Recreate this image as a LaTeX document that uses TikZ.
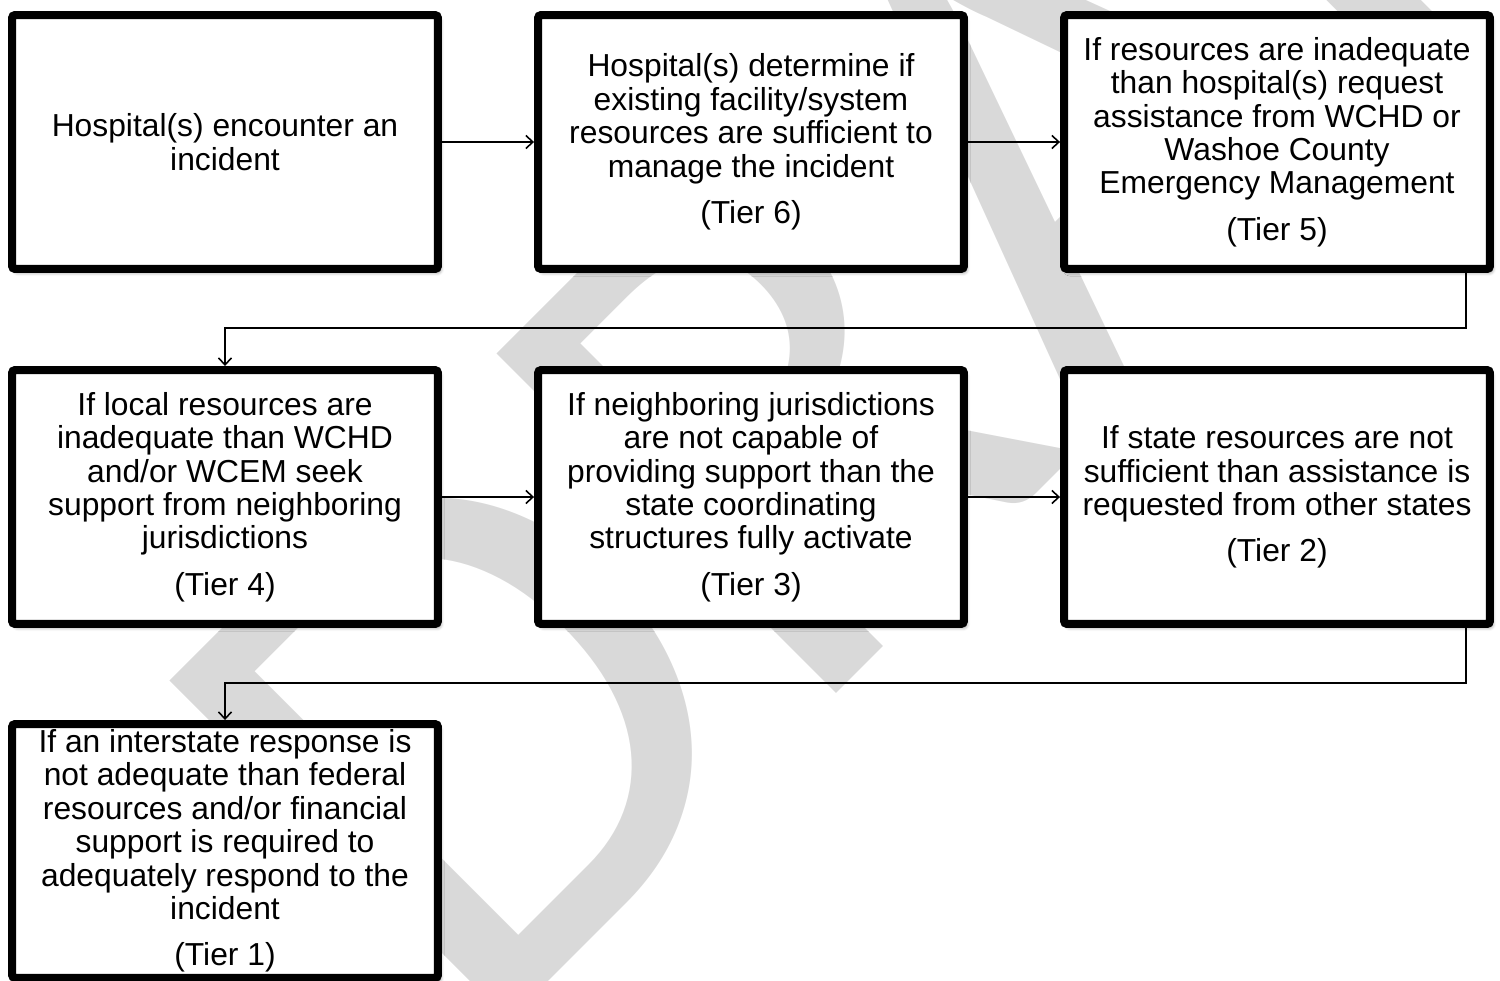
\documentclass[tikz,border=0pt]{standalone}
\usepackage{fontspec}
\setmainfont{Liberation Sans}
\newfontfamily\wmfont{Carlito}
\usepackage{tikz}
\usetikzlibrary{arrows.meta,shadows.blur}

\definecolor{wmgray}{RGB}{217,217,217}

\begin{document}
\begin{tikzpicture}[x=0.02cm, y=-0.02cm,
    tierbox/.style={rectangle, draw, fill=white, line width=0.16cm, rounded corners=0.06cm,
      minimum width=8.52cm, minimum height=5.08cm, align=center, inner sep=0pt,
      font=\fontsize{18.1pt}{19pt}\selectfont,
      blur shadow={shadow xshift=1.5pt, shadow yshift=-2pt, shadow opacity=45, shadow blur radius=2pt}},
    link/.style={line width=0.9pt, -{Straight Barb[length=0.14cm,width=0.26cm]}},
    wmark/.style={text=wmgray, inner sep=0pt, anchor=base west, rotate=45,
      font=\wmfont\fontsize{426pt}{426pt}\selectfont}]
  \useasboundingbox (0,0) rectangle (1500,980);
  \clip (0,0) rectangle (1500,980);

  % Watermark
  \node[wmark] (wm) at (473,1057) {DRAFT};

  % Nodes
  \node[tierbox] (inc) at (225,142) {Hospital(s) encounter an\\incident};
  \node[tierbox] (t6) at (751,142) {Hospital(s) determine if\\existing facility/system\\resources are sufficient to\\manage the incident\\[7.4pt](Tier 6)};
  \node[tierbox] (t5) at (1277,142) {If resources are inadequate\\than hospital(s) request\\assistance from WCHD or\\Washoe County\\Emergency Management\\[7.4pt](Tier 5)};
  \node[tierbox] (t4) at (225,497) {If local resources are\\inadequate than WCHD\\and/or WCEM seek\\support from neighboring\\jurisdictions\\[7.4pt](Tier 4)};
  \node[tierbox] (t3) at (751,497) {If neighboring jurisdictions\\are not capable of\\providing support than the\\state coordinating\\structures fully activate\\[7.4pt](Tier 3)};
  \node[tierbox] (t2) at (1277,497) {If state resources are not\\sufficient than assistance is\\requested from other states\\[7.4pt](Tier 2)};
  \node[tierbox] (t1) at (225,851) {If an interstate response is\\not adequate than federal\\resources and/or financial\\support is required to\\adequately respond to the\\incident\\[7.4pt](Tier 1)};

  % Bends
  \coordinate (k1) at (1466,328);
  \coordinate (k2) at (1466,683);

  % Edges
  \draw[link] (inc) -- (t6);
  \draw[link] (t6) -- (t5);
  \draw[link] (t5.south -| k1) -- (k1) -| (t4.north);
  \draw[link] (t4) -- (t3);
  \draw[link] (t3) -- (t2);
  \draw[link] (t2.south -| k2) -- (k2) -| (t1.north);
\end{tikzpicture}
\end{document}
